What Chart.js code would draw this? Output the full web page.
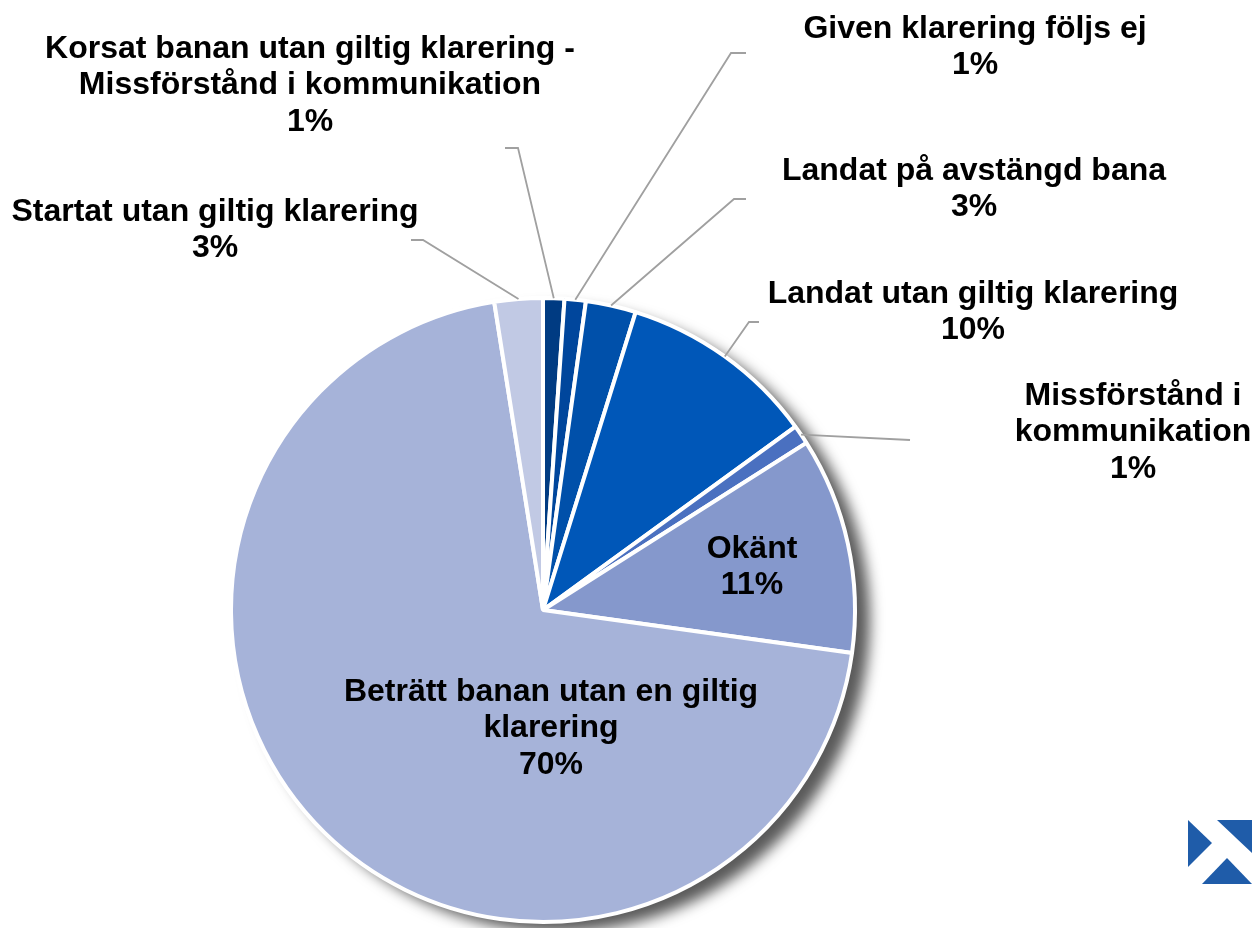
<!DOCTYPE html>
<html>
<head>
<meta charset="utf-8">
<script src="https://cdn.jsdelivr.net/npm/chart.js@4.4.1/dist/chart.umd.min.js"></script>
<style>
  html, body { margin: 0; padding: 0; background: #fff; }
  #wrap { width: 1252px; height: 928px; position: relative; }
</style>
</head>
<body>
<div id="wrap"><canvas id="pie" width="1252" height="928"></canvas></div>
<script>
const ctxPie = document.getElementById("pie");

// categories, clockwise from 12 o'clock
const labels = [
  ["Korsat banan utan giltig klarering -", "Missförstånd i kommunikation"],
  ["Given klarering följs ej"],
  ["Landat på avstängd bana"],
  ["Landat utan giltig klarering"],
  ["Missförstånd i", "kommunikation"],
  ["Okänt"],
  ["Beträtt banan utan en giltig", "klarering"],
  ["Startat utan giltig klarering"],
];
const values = [1.1, 1.1, 2.6, 10.2, 1.0, 11.2, 70.3, 2.5];
const colors = ["#003B82", "#00469C", "#0050AA", "#0057B8", "#4A70C0", "#8598CC", "#A6B3D9", "#C1C9E4"];

// where each label sits and how its leader line bends (null = inside the slice)
const labelLayout = [
  { x: 310, y: 49, elbow: [518, 148], end: [505, 148] },
  { x: 975, y: 29, elbow: [731, 53], end: [746, 53] },
  { x: 974, y: 171, elbow: [734, 199], end: [746, 199] },
  { x: 973, y: 294, elbow: [749, 322], end: [759, 322] },
  { x: 1133, y: 396, elbow: null, end: [910, 440] },
  { x: 752, y: 549, elbow: null, end: null },
  { x: 551, y: 692, elbow: null, end: null },
  { x: 215, y: 212, elbow: [423, 240], end: [411, 240] },
];

const FONT = "bold 32px 'Liberation Sans', Arial, sans-serif";
const LINE_H = 36.5;

const shadowPlugin = {
  id: "pieShadow",
  beforeDatasetsDraw(chart) {
    const arc = chart.getDatasetMeta(0).data[0];
    if (!arc) return;
    const { x, y, outerRadius } = arc.getProps(["x", "y", "outerRadius"], true);
    const c = chart.ctx;
    c.save();
    c.shadowColor = "rgba(0,0,0,0.65)";
    c.shadowBlur = 14;
    c.shadowOffsetX = 15;
    c.shadowOffsetY = 10;
    c.beginPath();
    c.arc(x, y, outerRadius, 0, Math.PI * 2);
    c.fillStyle = "#fff";
    c.fill();
    c.restore();
  },
};

const labelPlugin = {
  id: "pieLabels",
  afterDatasetsDraw(chart) {
    const c = chart.ctx;
    const meta = chart.getDatasetMeta(0);
    meta.data.forEach((arc, i) => {
      const p = arc.getProps(["x", "y", "startAngle", "endAngle", "outerRadius"], true);
      const lay = labelLayout[i];
      if (lay.end) {
        const mid = (p.startAngle + p.endAngle) / 2;
        const sx = p.x + Math.cos(mid) * p.outerRadius;
        const sy = p.y + Math.sin(mid) * p.outerRadius;
        c.save();
        c.strokeStyle = "#A0A0A0";
        c.lineWidth = 1.8;
        c.beginPath();
        c.moveTo(sx, sy);
        if (lay.elbow) c.lineTo(lay.elbow[0], lay.elbow[1]);
        c.lineTo(lay.end[0], lay.end[1]);
        c.stroke();
        c.restore();
      }
      const lines = labels[i].concat([Math.round(values[i]) + "%"]);
      c.save();
      c.font = FONT;
      c.fillStyle = "#000";
      c.textAlign = "center";
      c.textBaseline = "middle";
      lines.forEach((t, k) => c.fillText(t, lay.x, lay.y + k * LINE_H));
      c.restore();
    });
  },
  afterDraw(chart) {
    // small logo, bottom right corner
    const c = chart.ctx;
    c.save();
    c.fillStyle = "#1F5CA9";
    c.beginPath();
    c.moveTo(1188, 820); c.lineTo(1212, 843); c.lineTo(1188, 867); c.closePath();
    c.fill();
    c.beginPath();
    c.moveTo(1217, 820); c.lineTo(1252, 820); c.lineTo(1252, 853); c.closePath();
    c.fill();
    c.beginPath();
    c.moveTo(1202, 884); c.lineTo(1227, 858); c.lineTo(1252, 884); c.closePath();
    c.fill();
    c.restore();
  },
};

new Chart(ctxPie, {
  type: "pie",
  data: {
    labels: labels.map((l) => l.join(" ")),
    datasets: [
      {
        data: values,
        backgroundColor: colors,
        borderColor: "#fff",
        borderWidth: 4,
      },
    ],
  },
  options: {
    responsive: false,
    animation: false,
    layout: { padding: { top: 296, bottom: 4, left: 229, right: 395 } },
    plugins: {
      legend: { display: false },
      tooltip: { enabled: false },
    },
  },
  plugins: [shadowPlugin, labelPlugin],
});
</script>
</body>
</html>
